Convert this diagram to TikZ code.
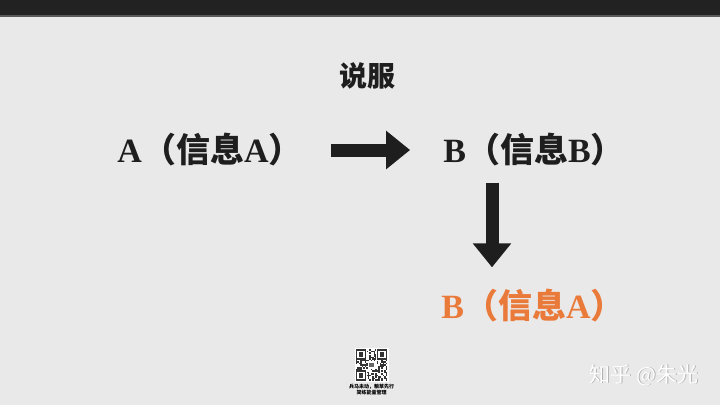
\documentclass[tikz,border=0pt]{standalone}
\usepackage{fontspec}
\setmainfont{Liberation Serif}
\newfontfamily\cjk{Noto Sans CJK SC}
\usetikzlibrary{arrows.meta,positioning}
\definecolor{bgGray}{HTML}{E9E9E9}
\definecolor{barDark}{HTML}{222222}
\definecolor{infoOrange}{RGB}{233,122,58}
\definecolor{arrowBlack}{HTML}{1E1E1E}

\begin{document}
\begin{tikzpicture}[x=1pt,y=-1pt]
\tikzstyle{statement}=[font=\fontsize{34}{38}\selectfont\bfseries, inner sep=0pt, text=arrowBlack]
\tikzstyle{bigarrow}=[line width=13pt, draw=arrowBlack, -{Triangle[length=24pt,width=37pt]}]
\tikzstyle{qrmod}=[fill=black!80]
\newcommand{\info}[2]{#1{\cjk （信息}#2{\cjk ）}}

%% ========== CANVAS ==========
\useasboundingbox (0,0) rectangle (720,405);
\fill[bgGray] (0,0) rectangle (720,405);
\fill[barDark] (0,0) rectangle (720,15);
\fill[black!65] (0,15) rectangle (720,16.5);

%% ========== STATEMENTS ==========
\node[font=\fontsize{28}{30}\selectfont\cjk\bfseries, inner sep=0pt, text=arrowBlack] (persuade) at (367,76) {说服};
\node[statement] (srcA) at (210,150) {\info{A}{A}};
\node[statement] (tgtB) at (534,150) {\info{B}{B}};
\node[statement, text=infoOrange] (tgtA) at (533,306) {\info{B}{A}};

%% ========== ARROWS ==========
\draw[bigarrow, shorten <=28pt, shorten >=33pt] (srcA.east) -- (tgtB.west);
\draw[bigarrow, shorten <=16pt, shorten >=22pt] ([xshift=-42pt]tgtB.south) -- ([xshift=-41pt]tgtA.north);

%% ========== QR CODE ==========
\node[fill=white, minimum size=34pt, inner sep=0pt] (qr) at (371.5,365) {};
\begin{scope}[shift={(qr.north west)}, shift={(1.5,1.5)}]
\pgfmathsetseed{12}
\foreach \i in {0,...,20}
  \foreach \j in {0,...,20} {
    \pgfmathrandominteger{\bit}{0}{1}
    \ifnum\bit=1 \fill[qrmod] (\i*1.5,\j*1.5) rectangle ++(1.5,1.5); \fi
  }
% finder patterns
\foreach \fx/\fy in {0/0, 21/0, 0/21} {
  \fill[white] (\fx-0.5,\fy-0.5) rectangle ++(11.5,11.5);
  \fill[qrmod] (\fx,\fy) rectangle ++(10.5,10.5);
  \fill[white] (\fx+1.5,\fy+1.5) rectangle ++(7.5,7.5);
  \fill[qrmod] (\fx+3,\fy+3) rectangle ++(4.5,4.5);
}
\fill[white] (12,12) rectangle ++(7.5,7.5);
\fill[black!60] (13.5,13.5) rectangle ++(4.5,4.5);
\end{scope}
\node[font=\fontsize{5}{6}\selectfont\cjk\bfseries, align=center, below=2pt of qr, inner sep=0pt] (qrcap) {兵马未动，粮草先行\\简练能量管理};

%% ========== WATERMARK ==========
\node[font=\fontsize{21}{22}\selectfont\cjk, text=black!30] at (644.8,375.8) {知乎 @朱光};
\node[font=\fontsize{21}{22}\selectfont\cjk, text=white] (zhihu) at (644,375) {知乎 @朱光};

\end{tikzpicture}
\end{document}
